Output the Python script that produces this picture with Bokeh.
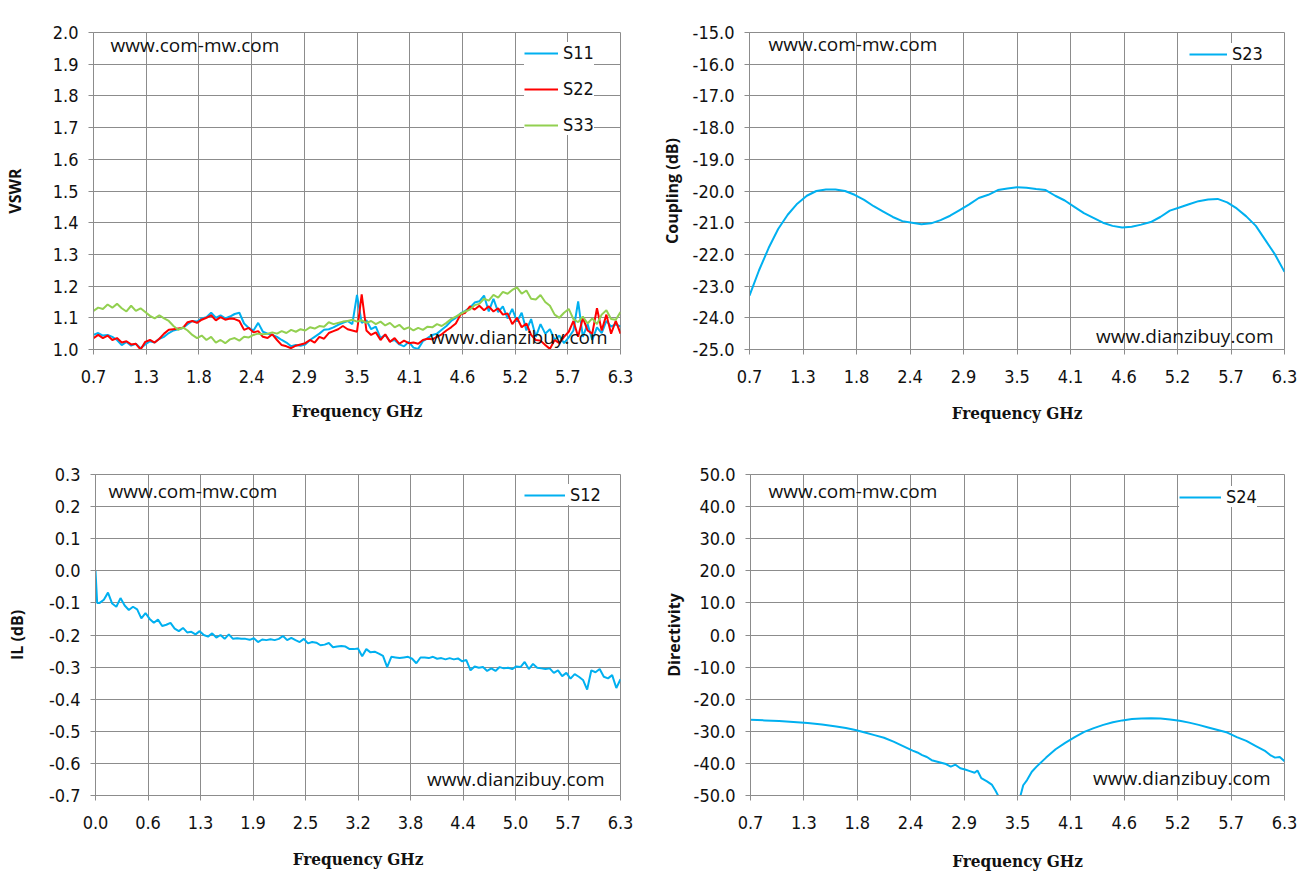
import numpy as np
from bokeh.plotting import figure
from bokeh.models import (Range1d, FixedTicker, NumeralTickFormatter, CustomJSTickFormatter,
                          Label, Legend, LegendItem)
from bokeh.layouts import column, row
from bokeh.embed import file_html
from bokeh.resources import INLINE

# ---------------- data ----------------
vswr_freq = [round(0.70 + 0.05 * i, 2) for i in range(113)]
vswr_s11 = [
    1.046, 1.052, 1.044, 1.046, 1.040, 1.030, 1.014, 1.024, 1.012, 1.018,
    1.004, 1.016, 1.026, 1.022, 1.034, 1.040, 1.052, 1.060, 1.064, 1.068,
    1.080, 1.090, 1.088, 1.098, 1.102, 1.116, 1.100, 1.108, 1.098, 1.104,
    1.112, 1.116, 1.082, 1.068, 1.060, 1.084, 1.056, 1.050, 1.046, 1.040,
    1.030, 1.022, 1.010, 1.014, 1.012, 1.016, 1.030, 1.040, 1.050, 1.062,
    1.064, 1.070, 1.078, 1.084, 1.090, 1.080, 1.172, 1.084, 1.092, 1.064,
    1.072, 1.036, 1.046, 1.026, 1.030, 1.016, 1.010, 1.024, 1.006, 1.002,
    1.026, 1.036, 1.046, 1.050, 1.062, 1.074, 1.090, 1.100, 1.114, 1.122,
    1.132, 1.148, 1.152, 1.170, 1.120, 1.160, 1.118, 1.136, 1.098, 1.128,
    1.088, 1.116, 1.060, 1.096, 1.040, 1.080, 1.050, 1.064, 1.030, 1.044,
    1.020, 1.038, 1.060, 1.152, 1.040, 1.080, 1.030, 1.070, 1.052, 1.090,
    1.072, 1.080, 1.072]
vswr_s22 = [
    1.036, 1.046, 1.036, 1.044, 1.030, 1.036, 1.022, 1.026, 1.016, 1.018,
    1.000, 1.024, 1.030, 1.022, 1.034, 1.050, 1.062, 1.064, 1.066, 1.068,
    1.086, 1.090, 1.084, 1.094, 1.100, 1.108, 1.092, 1.102, 1.094, 1.098,
    1.096, 1.090, 1.062, 1.068, 1.054, 1.058, 1.040, 1.036, 1.048, 1.030,
    1.014, 1.010, 1.004, 1.012, 1.016, 1.020, 1.030, 1.022, 1.040, 1.034,
    1.052, 1.058, 1.064, 1.074, 1.064, 1.060, 1.056, 1.174, 1.060, 1.046,
    1.054, 1.030, 1.048, 1.024, 1.036, 1.018, 1.028, 1.020, 1.022, 1.018,
    1.030, 1.034, 1.032, 1.040, 1.048, 1.060, 1.070, 1.082, 1.110, 1.116,
    1.136, 1.126, 1.138, 1.124, 1.136, 1.120, 1.130, 1.110, 1.114, 1.080,
    1.100, 1.070, 1.082, 1.046, 1.030, 1.028, 1.014, 1.002, 1.030, 1.020,
    1.040, 1.056, 1.090, 1.040, 1.100, 1.060, 1.050, 1.130, 1.060, 1.110,
    1.050, 1.090, 1.050]
vswr_s33 = [
    1.122, 1.132, 1.128, 1.142, 1.132, 1.144, 1.130, 1.120, 1.138, 1.122,
    1.130, 1.118, 1.106, 1.098, 1.108, 1.098, 1.090, 1.074, 1.062, 1.070,
    1.060, 1.046, 1.036, 1.044, 1.030, 1.040, 1.022, 1.030, 1.020, 1.032,
    1.036, 1.028, 1.040, 1.038, 1.046, 1.050, 1.048, 1.050, 1.054, 1.050,
    1.058, 1.052, 1.062, 1.056, 1.064, 1.060, 1.070, 1.066, 1.074, 1.072,
    1.086, 1.080, 1.084, 1.088, 1.090, 1.094, 1.088, 1.092, 1.084, 1.090,
    1.080, 1.088, 1.076, 1.084, 1.070, 1.078, 1.064, 1.070, 1.060, 1.068,
    1.062, 1.072, 1.070, 1.080, 1.074, 1.084, 1.096, 1.104, 1.112, 1.120,
    1.126, 1.140, 1.144, 1.160, 1.154, 1.172, 1.164, 1.182, 1.176, 1.188,
    1.196, 1.176, 1.186, 1.160, 1.158, 1.172, 1.150, 1.138, 1.110, 1.100,
    1.116, 1.128, 1.096, 1.086, 1.104, 1.082, 1.098, 1.080, 1.110, 1.124,
    1.096, 1.094, 1.118]

coup_freq = [round(0.7 + 0.1 * i, 1) for i in range(57)]
coup_s23 = [
    -23.3, -22.5, -21.8, -21.2, -20.75, -20.4, -20.15, -20.0, -19.95, -19.95,
    -20.0, -20.12, -20.28, -20.48, -20.65, -20.82, -20.95, -21.0, -21.05, -21.02,
    -20.92, -20.78, -20.6, -20.42, -20.22, -20.12, -19.97, -19.92, -19.88, -19.9,
    -19.94, -19.97, -20.15, -20.3, -20.5, -20.7, -20.85, -21.0, -21.1, -21.15,
    -21.13, -21.06, -20.98, -20.82, -20.62, -20.52, -20.42, -20.32, -20.27, -20.25,
    -20.36, -20.55, -20.8, -21.1, -21.55, -22.0, -22.55]

il_freq = [
    0.00, 0.02, 0.05, 0.10, 0.15, 0.20, 0.25, 0.30, 0.35, 0.40, 0.45, 0.50, 0.55, 0.60,
    0.65, 0.70, 0.75, 0.80, 0.85, 0.90, 0.95, 1.00, 1.05, 1.10, 1.15, 1.20, 1.25, 1.30,
    1.35, 1.40, 1.45, 1.50, 1.55, 1.60, 1.65, 1.70, 1.75, 1.80, 1.85, 1.90, 1.95, 2.00,
    2.05, 2.10, 2.15, 2.20, 2.25, 2.30, 2.35, 2.40, 2.45, 2.50, 2.55, 2.60, 2.65, 2.70,
    2.75, 2.80, 2.85, 2.90, 2.95, 3.00, 3.05, 3.10, 3.15, 3.20, 3.25, 3.30, 3.35, 3.40,
    3.45, 3.50, 3.55, 3.60, 3.65, 3.70, 3.75, 3.80, 3.85, 3.90, 3.95, 4.00, 4.05, 4.10,
    4.15, 4.20, 4.25, 4.30, 4.35, 4.40, 4.45, 4.50, 4.55, 4.60, 4.65, 4.70, 4.75, 4.80,
    4.85, 4.90, 4.95, 5.00, 5.05, 5.10, 5.15, 5.20, 5.25, 5.30, 5.35, 5.40, 5.45, 5.50,
    5.55, 5.60, 5.65, 5.70, 5.75, 5.80, 5.85, 5.90, 5.95, 6.00, 6.05, 6.10, 6.15, 6.20,
    6.25, 6.30]
il_s12 = [
    0.000, -0.100, -0.100, -0.090, -0.068, -0.102, -0.112, -0.085, -0.108, -0.122, -0.112, -0.120, -0.148, -0.132,
    -0.150, -0.162, -0.152, -0.172, -0.168, -0.162, -0.180, -0.188, -0.178, -0.192, -0.190, -0.198, -0.188, -0.200,
    -0.205, -0.195, -0.208, -0.200, -0.212, -0.198, -0.212, -0.210, -0.212, -0.212, -0.215, -0.210, -0.222, -0.214,
    -0.216, -0.213, -0.216, -0.212, -0.203, -0.216, -0.209, -0.216, -0.222, -0.212, -0.226, -0.222, -0.224, -0.232,
    -0.230, -0.225, -0.238, -0.236, -0.234, -0.236, -0.244, -0.244, -0.242, -0.266, -0.244, -0.254, -0.252, -0.258,
    -0.265, -0.300, -0.268, -0.270, -0.272, -0.270, -0.268, -0.274, -0.288, -0.270, -0.270, -0.272, -0.268, -0.274,
    -0.272, -0.276, -0.272, -0.276, -0.273, -0.282, -0.278, -0.310, -0.298, -0.302, -0.300, -0.312, -0.304, -0.312,
    -0.300, -0.304, -0.302, -0.306, -0.298, -0.300, -0.284, -0.306, -0.290, -0.302, -0.304, -0.306, -0.304, -0.318,
    -0.310, -0.328, -0.318, -0.336, -0.322, -0.330, -0.340, -0.370, -0.310, -0.316, -0.306, -0.330, -0.335, -0.325,
    -0.365, -0.338]

nan = float("nan")
dir_freq = [
    0.70, 0.85, 1.00, 1.15, 1.30, 1.45, 1.60, 1.70, 1.80, 1.90, 2.00, 2.10, 2.20, 2.30,
    2.40, 2.45, 2.50, 2.55, 2.60, 2.65, 2.70, 2.75, 2.80, 2.85, 2.90, 2.95, 3.00, 3.05,
    3.08, 3.12, 3.18, 3.23, 3.27, 3.30, 3.40, 3.53, 3.56, 3.60, 3.65, 3.70, 3.80, 3.90,
    4.00, 4.10, 4.20, 4.30, 4.40, 4.50, 4.60, 4.70, 4.80, 4.90, 5.00, 5.10, 5.20, 5.30,
    5.40, 5.50, 5.60, 5.70, 5.80, 5.90, 6.00, 6.10, 6.15, 6.20, 6.25, 6.30]
dir_s24 = [
    -26.4, -26.6, -26.8, -27.1, -27.4, -27.9, -28.5, -29.0, -29.6, -30.4, -31.2, -32.0, -33.2, -34.6,
    -36.0, -36.6, -37.4, -38.0, -39.0, -39.4, -39.8, -40.2, -41.0, -40.4, -41.5, -41.9, -42.4, -42.9,
    -42.2, -44.6, -45.6, -46.6, -48.5, -50.2, nan, -50.2, -46.8, -45.2, -42.6, -41.0, -38.2, -35.6,
    -33.6, -31.8, -30.2, -29.0, -28.0, -27.2, -26.6, -26.2, -26.0, -25.9, -26.0, -26.3, -26.7, -27.3,
    -28.0, -28.8, -29.6, -30.4, -31.8, -33.0, -34.6, -36.2, -37.4, -38.2, -38.0, -39.3]

ticks_07_63 = ["0.7", "1.3", "1.8", "2.4", "2.9", "3.5", "4.1", "4.6", "5.2", "5.7", "6.3"]
ticks_00_63 = ["0.0", "0.6", "1.3", "1.9", "2.5", "3.2", "3.8", "4.4", "5.0", "5.7", "6.3"]

# ---------------- styling ----------------
BLUE = "#00B0F0"
RED = "#FF0000"
GREEN = "#92D050"
GRID = "#8C8C8C"
TXT = "#111111"
TICK_FONT = "'DejaVu Sans Condensed', 'Liberation Sans', sans-serif"
SANS = "Open Sans"
SERIF = "'DejaVu Serif Condensed', 'DejaVu Serif', serif"


def make_fig(width, height, x0, x1, tick_labels, y0, y1, ystep, ytitle, borders,
             ytitle_standoff, xtitle_standoff):
    left, right, top, bottom = borders
    p = figure(width=width, height=height, output_backend="svg", toolbar_location=None,
               x_range=Range1d(x0, x1), y_range=Range1d(y0, y1),
               min_border_left=left, min_border_right=right,
               min_border_top=top, min_border_bottom=bottom)
    p.background_fill_color = "white"
    p.border_fill_color = "white"
    p.outline_line_color = GRID
    p.outline_line_width = 1
    n = len(tick_labels)
    step = (x1 - x0) / (n - 1)
    p.xaxis.ticker = FixedTicker(ticks=[x0 + step * i for i in range(n)])
    p.xaxis.formatter = CustomJSTickFormatter(
        args=dict(labels=tick_labels, x0=x0, step=step),
        code="return labels[Math.round((tick - x0) / step)];")
    ny = int(round((y1 - y0) / ystep))
    p.yaxis.ticker = FixedTicker(ticks=[round(y0 + ystep * i, 6) for i in range(ny + 1)])
    p.yaxis.formatter = NumeralTickFormatter(format="0.0")
    for ax in (p.xaxis, p.yaxis):
        ax.axis_line_color = GRID
        ax.major_tick_line_color = GRID
        ax.major_tick_out = 5
        ax.major_tick_in = 0
        ax.minor_tick_line_color = None
        ax.major_label_text_font = TICK_FONT
        ax.major_label_text_font_size = "18px"
        ax.major_label_text_color = TXT
    p.xaxis.major_label_standoff = 15
    p.yaxis.major_label_standoff = 10
    p.xaxis.axis_label = "Frequency GHz"
    p.xaxis.axis_label_text_font = SERIF
    p.xaxis.axis_label_text_font_style = "bold"
    p.xaxis.axis_label_text_font_size = "17px"
    p.xaxis.axis_label_text_color = TXT
    p.xaxis.axis_label_standoff = xtitle_standoff
    p.yaxis.axis_label = ytitle
    p.yaxis.axis_label_text_font = SANS
    p.yaxis.axis_label_text_font_style = "bold"
    p.yaxis.axis_label_text_font_size = "16px"
    p.yaxis.axis_label_text_color = TXT
    p.yaxis.axis_label_standoff = ytitle_standoff
    p.xgrid.grid_line_color = GRID
    p.ygrid.grid_line_color = GRID
    p.xgrid.grid_line_width = 1
    p.ygrid.grid_line_width = 1
    return p


def add_marks(p, fw, fh, tl, tt, br, bb):
    p.add_layout(Label(x=tl, y=fh - tt, x_units="screen", y_units="screen",
                       text="www.com-mw.com", text_font=SANS, text_font_size="19px",
                       text_color=TXT, text_baseline="middle", text_align="left"))
    p.add_layout(Label(x=fw - br, y=bb, x_units="screen", y_units="screen",
                       text="www.dianzibuy.com", text_font=SANS, text_font_size="19px",
                       text_color=TXT, text_baseline="middle", text_align="right"))


def add_legend(p, items, loc, gw=34):
    leg = Legend(items=items, location=loc)
    leg.background_fill_color = "white"
    leg.background_fill_alpha = 1.0
    leg.border_line_color = None
    leg.label_text_font = TICK_FONT
    leg.label_text_font_size = "18px"
    leg.label_text_color = TXT
    leg.glyph_width = gw
    leg.glyph_height = 20
    leg.label_height = 20
    leg.label_standoff = 5
    leg.spacing = 15
    leg.padding = 9
    leg.margin = 0
    p.add_layout(leg)


W1, W2, H = 654, 656, 440

# ---- VSWR ----
p1 = make_fig(W1, H, 0.7, 6.3, ticks_07_63, 1.0, 2.0, 0.1, "VSWR", (93, 34, 27, 91), 24, 15)
r11 = p1.line(vswr_freq, vswr_s11, line_color=BLUE, line_width=2)
r22 = p1.line(vswr_freq, vswr_s22, line_color=RED, line_width=2)
r33 = p1.line(vswr_freq, vswr_s33, line_color=GREEN, line_width=2)
add_marks(p1, 527, 322, 17, 17, 13, 13)
add_legend(p1, [LegendItem(label="S11", renderers=[r11]),
                LegendItem(label="S22", renderers=[r22]),
                LegendItem(label="S33", renderers=[r33])], (431, 214))

# ---- Coupling ----
p2 = make_fig(W2, H, 0.7, 6.3, ticks_07_63, -25.0, -15.0, 1.0, "Coupling (dB)", (95, 26, 32, 87), 7, 17)
r23 = p2.line(coup_freq, coup_s23, line_color=BLUE, line_width=2)
add_marks(p2, 535, 321, 19, 15, 11, 14)
add_legend(p2, [LegendItem(label="S23", renderers=[r23])], (440, 285), gw=38)

# ---- IL ----
p3 = make_fig(W1, H, 0.0, 6.3, ticks_00_63, -0.7, 0.3, 0.1, "IL (dB)", (95, 34, 34, 85), 18, 17)
r12 = p3.line(il_freq, il_s12, line_color=BLUE, line_width=2)
add_marks(p3, 525, 321, 13, 16, 16, 17)
add_legend(p3, [LegendItem(label="S12", renderers=[r12])], (429, 290), gw=41)

# ---- Directivity ----
p4 = make_fig(W2, H, 0.7, 6.3, ticks_07_63, -50.0, 50.0, 10.0, "Directivity", (96, 26, 34, 85), 6, 19)
r24 = p4.line(dir_freq, dir_s24, line_color=BLUE, line_width=2)
add_marks(p4, 534, 321, 18, 16, 14, 18)
add_legend(p4, [LegendItem(label="S24", renderers=[r24])], (429, 288), gw=42)

layout = column(row(p1, p2), row(p3, p4))

open("out.html", "w").write(file_html(layout, INLINE))
